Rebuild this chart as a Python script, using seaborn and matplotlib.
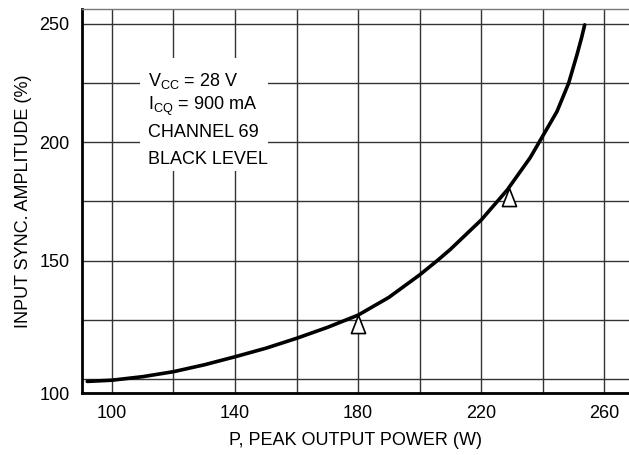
import matplotlib
matplotlib.use('Agg')
import matplotlib.pyplot as plt
import seaborn as sns
from matplotlib.patches import Rectangle
from matplotlib.ticker import FixedLocator

# curve (W, %)
power = [92, 100, 110, 120, 130, 140, 150, 160, 170, 180, 190, 200,
         205.7, 210, 220, 228.4, 235.9, 238.8, 244.6, 248.4, 251.1, 252.6, 253.6]
sync_amp = [99.0, 99.5, 101.0, 103.1, 106.0, 109.4, 113.0, 117.2, 121.8, 127.0, 134.5, 144.0,
            150.0, 154.8, 167.2, 179.8, 193.5, 200.0, 213.0, 225.0, 237.0, 244.2, 249.6]

# measured points (open triangles)
meas_power = [180, 228.9]
meas_amp = [123.2, 177.1]

x_ticks = [100, 140, 180, 220, 260]
x_minor = [120, 160, 200, 240]
y_ticks = [150, 200, 250]
y_minor = [100, 125, 175, 225]
y_labels = ['100', '150', '200', '250']

notes = [r'V$_{\mathrm{CC}}$ = 28 V', r'I$_{\mathrm{CQ}}$ = 900 mA', 'CHANNEL 69', 'BLACK LEVEL']

sns.set_style('white')
plt.rcParams['font.family'] = ['Liberation Sans', 'DejaVu Sans']
plt.rcParams['mathtext.fontset'] = 'custom'
plt.rcParams['mathtext.rm'] = 'Liberation Sans'
plt.rcParams['mathtext.it'] = 'Liberation Sans'
for key in ['text.color', 'axes.labelcolor', 'xtick.color', 'ytick.color']:
    plt.rcParams[key] = 'black'

fs = 13

fig = plt.figure(figsize=(6.29, 4.55), dpi=100)
ax = fig.add_axes([82 / 629, 62 / 455, 547 / 629, 384 / 455])

xlim = (90.3, 268.0)
ylim = (94.1, 256.3)

sns.lineplot(x=power, y=sync_amp, ax=ax, color='black', linewidth=2.6, zorder=4)
sns.scatterplot(x=meas_power, y=meas_amp, ax=ax,
                marker=[(0, 1), (-0.78, -1), (0.78, -1), (0, 1)],
                s=170, facecolor='white', edgecolor='black', linewidth=1.2, zorder=3)

ax.set_xlim(*xlim)
ax.set_ylim(*ylim)

ax.set_xticks(x_ticks)
ax.xaxis.set_minor_locator(FixedLocator(x_minor))
# bottom label "100" sits on the axis line in the original
ax.set_yticks([ylim[0]] + y_ticks, labels=y_labels)
ax.yaxis.set_minor_locator(FixedLocator(y_minor))

ax.grid(True, which='both', color='#333333', linewidth=1.0, zorder=1)
ax.set_axisbelow(True)
ax.tick_params(which='both', length=0)
ax.tick_params(axis='x', labelsize=fs, pad=9)
ax.tick_params(axis='y', labelsize=fs, pad=9)

for side in ['left', 'bottom']:
    ax.spines[side].set_color('black')
    ax.spines[side].set_linewidth(2.0)
ax.spines['right'].set_visible(False)
ax.spines['top'].set_color('#777777')
ax.spines['top'].set_linewidth(1.0)

# white panel behind the condition notes
ax.add_patch(Rectangle((109.2, 187.9), 41.5, 47.7, facecolor='white', edgecolor='none', zorder=2))
note_y = [226.0, 215.3, 204.3, 192.6]
for txt, yy in zip(notes, note_y):
    ax.text(111.7, yy, txt, fontsize=fs, ha='left', va='center', zorder=5)

ax.set_xlabel('P, PEAK OUTPUT POWER (W)', fontsize=fs, labelpad=7)
ax.set_ylabel('INPUT SYNC. AMPLITUDE (%)', fontsize=fs, labelpad=5)

fig.savefig('out.png', dpi=100)
